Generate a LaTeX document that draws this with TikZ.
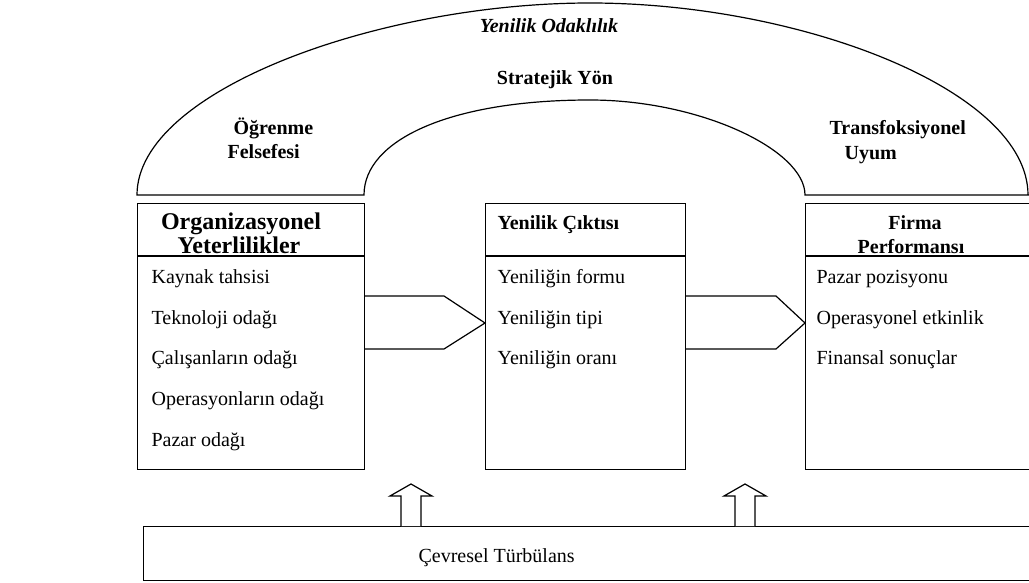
\documentclass[tikz,border=0pt]{standalone}
\usepackage{fontspec}
\setmainfont{Liberation Serif}
\begin{document}
\begin{tikzpicture}[x=0.5pt,y=-0.5pt,line width=0.6pt,
  panel/.style={draw=black,fill=white,inner sep=0pt,anchor=north west},
  item/.style={anchor=base west,inner sep=0pt,font=\fontsize{10}{12}\selectfont},
  headc/.style={anchor=base,inner sep=0pt,font=\fontsize{10}{12}\selectfont\bfseries},
  headl/.style={anchor=base west,inner sep=0pt,font=\fontsize{10}{12}\selectfont\bfseries},
  bighead/.style={anchor=base,inner sep=0pt,font=\fontsize{12}{14}\selectfont\bfseries},
  blockarrow/.style={draw=black,fill=white,line join=miter}]
\useasboundingbox (0,0) rectangle (1029,583);
\clip (0,0) rectangle (1029,583);

% double arch band on top
\draw[fill=white] (137,195) .. controls (137,90) and (380,3) .. (590,3)
  .. controls (800,3) and (1028,90) .. (1028,195) -- (1035,195) -- (805,195)
  .. controls (805,150) and (700,100) .. (590,100)
  .. controls (450,100) and (364,140) .. (364,195) -- cycle;
\node[anchor=base,inner sep=0pt,font=\fontsize{10}{12}\selectfont\bfseries\itshape] (focus) at (549,33) {Yenilik Odaklılık};
\node[headc] (strat) at (555,85) {Stratejik Yön};
\node[headl] (learn1) at (233,135) {Öğrenme};
\node[headl] (learn2) at (227,159) {Felsefesi};
\node[headl] (trans1) at (829,135) {Transfoksiyonel};
\node[headl] (trans2) at (844,160) {Uyum};

% three panels
\node[panel,minimum width=113.5pt,minimum height=133pt] (org) at (137,203) {};
\node[panel,minimum width=100pt,minimum height=133pt] (mid) at (485,203) {};
\node[panel,minimum width=116pt,minimum height=133pt] (firm) at (805,203) {};
\foreach \b in {org,mid,firm}
  \draw (\b.west |- 0,256) -- (\b.east |- 0,256);

\node[bighead] (orgh1) at (241,229) {Organizasyonel};
\node[bighead] (orgh2) at (239,253) {Yeterlilikler};
\node[item] (o1) at (151,283) {Kaynak tahsisi};
\node[item] (o2) at (151,324) {Teknoloji odağı};
\node[item] (o3) at (151,364) {Çalışanların odağı};
\node[item] (o4) at (151,405) {Operasyonların odağı};
\node[item] (o5) at (151,446) {Pazar odağı};

\node[headl] (midh) at (497,229) {Yenilik Çıktısı};
\node[item] (m1) at (497,283) {Yeniliğin formu};
\node[item] (m2) at (497,324) {Yeniliğin tipi};
\node[item] (m3) at (497,364) {Yeniliğin oranı};

\node[headc] (firmh1) at (915,229) {Firma};
\node[headc] (firmh2) at (911,253) {Performansı};
\node[item] (f1) at (816,283) {Pazar pozisyonu};
\node[item] (f2) at (816,324) {Operasyonel etkinlik};
\node[item] (f3) at (816,364) {Finansal sonuçlar};

% block arrows between panels
\draw[blockarrow] (org.east |- 0,296) -- (444,296) -- (mid.west |- 0,323)
  -- (444,349) -- (org.east |- 0,349);
\draw[blockarrow] (mid.east |- 0,296) -- (776,296) -- (firm.west |- 0,323)
  -- (776,349) -- (mid.east |- 0,349);

% environment bar with upward arrows
\node[panel,minimum width=446pt,minimum height=27pt] (turb) at (143,526) {};
\node[item] (turbt) at (418,562) {Çevresel Türbülans};
\draw[blockarrow] (turb.north -| 401,0) -- (401,496) -- (390,496) -- (411,484)
  -- (432,496) -- (421,496) -- (turb.north -| 421,0);
\draw[blockarrow] (turb.north -| 735,0) -- (735,496) -- (724,496) -- (745,484)
  -- (766,496) -- (755,496) -- (turb.north -| 755,0);
\end{tikzpicture}
\end{document}
